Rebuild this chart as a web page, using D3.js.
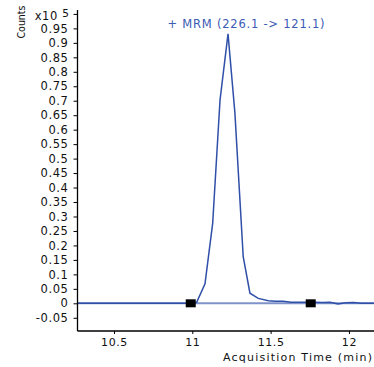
<!DOCTYPE html>
<html>
<head>
<meta charset="utf-8">
<script src="https://cdn.jsdelivr.net/npm/d3@7"></script>
<style>
  body { margin: 0; background: #fff; }
  svg { display: block; font-family: "DejaVu Sans", sans-serif; }
</style>
</head>
<body>
<div id="chart"></div>
<script>
// chromatogram trace (time in min, counts x10^5)
const times  = [10.27, 10.98, 11.028, 11.081, 11.13, 11.177, 11.228, 11.272, 11.325, 11.368, 11.421, 11.485,
                11.53, 11.58, 11.63, 11.68, 11.73, 11.78, 11.83, 11.88, 11.93, 11.98, 12.03, 12.08, 12.16];
const counts = [0, 0, 0.0035, 0.067, 0.276, 0.7025, 0.931, 0.657, 0.161, 0.035, 0.017, 0.009,
                0.007, 0.007, 0.004, 0.004, 0.004, 0.004, 0.003, 0.004, -0.002, 0.002, 0.003, 0.0, 0.0];
// integration start / end markers
const markerTimes = [10.99, 11.756];
const xTicks = [10.5, 11, 11.5, 12];
const yTicks = [-0.05, 0, 0.05, 0.1, 0.15, 0.2, 0.25, 0.3, 0.35, 0.4, 0.45, 0.5,
                0.55, 0.6, 0.65, 0.7, 0.75, 0.8, 0.85, 0.9, 0.95, 1.0];
const title = "+ MRM (226.1 -> 121.1)";

const W = 374, H = 367;
const margin = { top: 10, right: 0, bottom: 36, left: 77.5 };

const LINE_COLOR = "#2f4fa8";
const BASE_COLOR = "#7f93c9";
const TEXT_COLOR = "#111";

const svg = d3.select("#chart").append("svg")
  .attr("width", W)
  .attr("height", H);

const x = d3.scaleLinear()
  .domain([10.267, 12.16])
  .range([margin.left, W - margin.right]);

const y = d3.scaleLinear()
  .domain([-0.0957, 1.0135])
  .range([H - margin.bottom, margin.top]);

const data = times.map((t, i) => ({ t: t, v: counts[i] }));

// baseline
svg.append("line")
  .attr("x1", x.range()[0])
  .attr("x2", x.range()[1])
  .attr("y1", y(0))
  .attr("y2", y(0))
  .attr("stroke", BASE_COLOR)
  .attr("stroke-width", 2);

// trace
svg.append("path")
  .datum(data)
  .attr("fill", "none")
  .attr("stroke", LINE_COLOR)
  .attr("stroke-width", 1.5)
  .attr("d", d3.line().x(d => x(d.t)).y(d => y(d.v)));

// markers
svg.selectAll(".marker")
  .data(markerTimes)
  .enter()
  .append("rect")
  .attr("class", "marker")
  .attr("x", d => x(d) - 5)
  .attr("y", y(0) - 4)
  .attr("width", 10)
  .attr("height", 8)
  .attr("fill", "#000");

// y axis
const yAxis = svg.append("g")
  .attr("transform", `translate(${margin.left},0)`)
  .call(d3.axisLeft(y).tickValues(yTicks).tickSize(4).tickPadding(5)
    .tickFormat(d => d === 1 ? "" : String(+d.toFixed(2))));
yAxis.select(".domain").attr("stroke-width", 1.3).attr("d", `M0,${y.range()[1]}V${y.range()[0]}`);
yAxis.selectAll("text")
  .attr("font-size", 11.5)
  .attr("letter-spacing", 0.6)
  .attr("font-family", "DejaVu Sans")
  .attr("fill", TEXT_COLOR);

// exponent label at top tick
const expLabel = svg.append("text")
  .attr("x", margin.left - 8)
  .attr("y", y(1) + 6)
  .attr("text-anchor", "end")
  .attr("font-size", 11.5)
  .attr("letter-spacing", 0.6)
  .attr("fill", TEXT_COLOR);
expLabel.append("tspan").text("x10 ");
expLabel.append("tspan").attr("dy", -3).attr("font-size", 10.5).text("5");

// y label
svg.append("text")
  .attr("transform", `translate(25,22) rotate(-90)`)
  .attr("text-anchor", "middle")
  .attr("font-size", 10.5)
  .attr("textLength", 33)
  .attr("lengthAdjust", "spacingAndGlyphs")
  .attr("fill", TEXT_COLOR)
  .text("Counts");

// x axis
const xAxis = svg.append("g")
  .attr("transform", `translate(0,${H - margin.bottom})`)
  .call(d3.axisBottom(x).tickValues(xTicks).tickSize(3).tickPadding(4).tickFormat(d => String(d)));
xAxis.select(".domain").attr("stroke-width", 1.3).attr("d", `M${x.range()[0]},0H${x.range()[1]}`);
xAxis.selectAll("text")
  .attr("font-size", 11)
  .attr("letter-spacing", 0.6)
  .attr("font-family", "DejaVu Sans")
  .attr("fill", TEXT_COLOR);

svg.append("text")
  .attr("x", W - 2)
  .attr("y", H - 6)
  .attr("text-anchor", "end")
  .attr("font-size", 11)
  .attr("textLength", 149)
  .attr("lengthAdjust", "spacing")
  .attr("fill", TEXT_COLOR)
  .text("Acquisition Time (min)");

// title
svg.append("text")
  .attr("x", 246)
  .attr("y", 28)
  .attr("text-anchor", "middle")
  .attr("font-size", 11.5)
  .attr("textLength", 157)
  .attr("lengthAdjust", "spacing")
  .attr("fill", "#3b5bb5")
  .text(title);
</script>
</body>
</html>
